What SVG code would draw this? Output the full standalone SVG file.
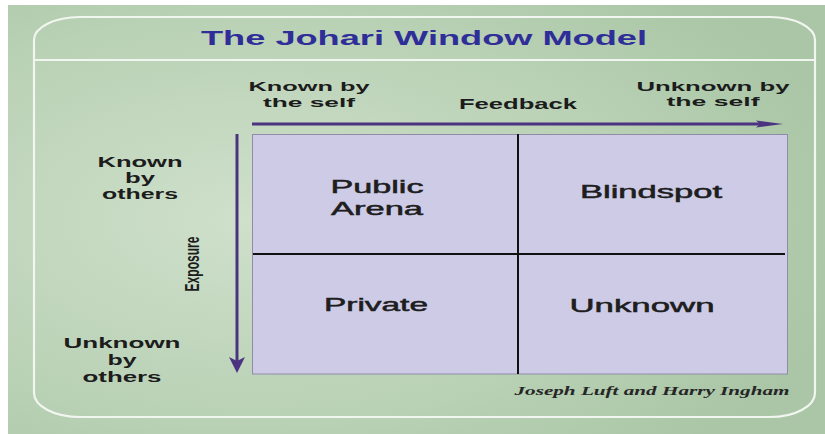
<svg xmlns="http://www.w3.org/2000/svg" width="825" height="434" viewBox="0 0 825 434">
  <defs>
    <radialGradient id="bgGlow" cx="0.3" cy="0.5" r="0.75">
      <stop offset="0" stop-color="#cfe0cb"/>
      <stop offset="0.55" stop-color="#bcd3b8"/>
      <stop offset="1" stop-color="#aac6a6"/>
    </radialGradient>
    <style>
      .panel { fill: none; stroke: #f2f6f0; stroke-width: 2.2; }
      .lbl { font-family: "Liberation Sans", Arial, sans-serif; font-weight: bold; fill: #1c1c1c; text-anchor: middle; }
      .axis { font-size: 14px; }
      .top { font-size: 13px; }
      .quad { font-family: "Liberation Sans", Arial, sans-serif; font-size: 18px; fill: #1e1e1e; stroke: #1e1e1e; stroke-width: 0.5; text-anchor: middle; }
      .grid { stroke: #111; stroke-width: 2; }
      .arrow { stroke: #4b3381; stroke-width: 3; fill: none; }
      .head { fill: #4b3381; }
    </style>
  </defs>

  <!-- page and green backdrop -->
  <rect x="0" y="0" width="825" height="434" fill="#ffffff"/>
  <rect x="8" y="5" width="817" height="429" fill="url(#bgGlow)"/>

  <!-- rounded white frame with title divider -->
  <path class="panel" d="M34,40 A46,23 0 0 1 80,17 L770,17 A45,23 0 0 1 815,40 L815,393 A45,24 0 0 1 770,417 L80,417 A46,24 0 0 1 34,393 Z"/>
  <line class="panel" x1="34" y1="60" x2="815" y2="60"/>

  <g id="title">
    <text x="424" y="45" font-family="'Liberation Sans', Arial, sans-serif" font-weight="bold" font-size="21" fill="#2f2e99" text-anchor="middle" textLength="446" lengthAdjust="spacingAndGlyphs">The Johari Window Model</text>
  </g>

  <!-- window grid -->
  <g id="window">
    <rect x="252.5" y="134.5" width="535" height="239.5" fill="#cdcbe6" stroke="#8e8ca8" stroke-width="1"/>
    <line class="grid" x1="518" y1="134" x2="518" y2="374"/>
    <line class="grid" x1="253" y1="254" x2="785" y2="254"/>
  </g>

  <g id="public-arena">
    <text class="quad" x="377" y="193" textLength="93" lengthAdjust="spacingAndGlyphs">Public</text>
    <text class="quad" x="377" y="215" textLength="92" lengthAdjust="spacingAndGlyphs">Arena</text>
  </g>
  <g id="blindspot">
    <text class="quad" x="651" y="198" textLength="142" lengthAdjust="spacingAndGlyphs">Blindspot</text>
  </g>
  <g id="private">
    <text class="quad" x="376" y="311" textLength="104" lengthAdjust="spacingAndGlyphs">Private</text>
  </g>
  <g id="unknown">
    <text class="quad" x="642" y="312" textLength="145" lengthAdjust="spacingAndGlyphs">Unknown</text>
  </g>

  <!-- axis captions -->
  <g id="known-by-self">
    <text class="lbl top" x="309" y="91" textLength="121" lengthAdjust="spacingAndGlyphs">Known by</text>
    <text class="lbl top" x="309" y="106.5" textLength="92" lengthAdjust="spacingAndGlyphs">the self</text>
  </g>
  <g id="feedback">
    <text class="lbl axis" x="518" y="109" textLength="118" lengthAdjust="spacingAndGlyphs">Feedback</text>
  </g>
  <g id="unknown-by-self">
    <text class="lbl top" x="713" y="90.5" textLength="153" lengthAdjust="spacingAndGlyphs">Unknown by</text>
    <text class="lbl top" x="713" y="106" textLength="93" lengthAdjust="spacingAndGlyphs">the self</text>
  </g>
  <g id="known-by-others">
    <text class="lbl axis" x="140" y="167" textLength="85" lengthAdjust="spacingAndGlyphs">Known</text>
    <text class="lbl axis" x="140" y="183" textLength="30" lengthAdjust="spacingAndGlyphs">by</text>
    <text class="lbl axis" x="140" y="199" textLength="76" lengthAdjust="spacingAndGlyphs">others</text>
  </g>
  <g id="unknown-by-others">
    <text class="lbl axis" x="122" y="348" textLength="117" lengthAdjust="spacingAndGlyphs">Unknown</text>
    <text class="lbl axis" x="122" y="365" textLength="29" lengthAdjust="spacingAndGlyphs">by</text>
    <text class="lbl axis" x="122" y="382" textLength="79" lengthAdjust="spacingAndGlyphs">others</text>
  </g>
  <g id="exposure">
    <text class="lbl" font-size="13" transform="translate(199,264) rotate(-90) scale(1,1.6)" textLength="55" lengthAdjust="spacingAndGlyphs">Exposure</text>
  </g>

  <g id="credit">
    <text x="652" y="395" font-family="'Liberation Serif', 'Times New Roman', serif" font-style="italic" font-weight="bold" font-size="13" fill="#262626" text-anchor="middle" textLength="275" lengthAdjust="spacingAndGlyphs">Joseph Luft and Harry Ingham</text>
  </g>

  <!-- axis arrows -->
  <g id="connectors">
    <line class="arrow" x1="252" y1="124" x2="762" y2="124"/>
    <polygon class="head" points="756,120.5 783,124 756,127.5 760,124"/>
    <line class="arrow" x1="237" y1="134" x2="237" y2="362"/>
    <polygon class="head" points="229,357 237,373 245,357 237,361"/>
  </g>
</svg>
